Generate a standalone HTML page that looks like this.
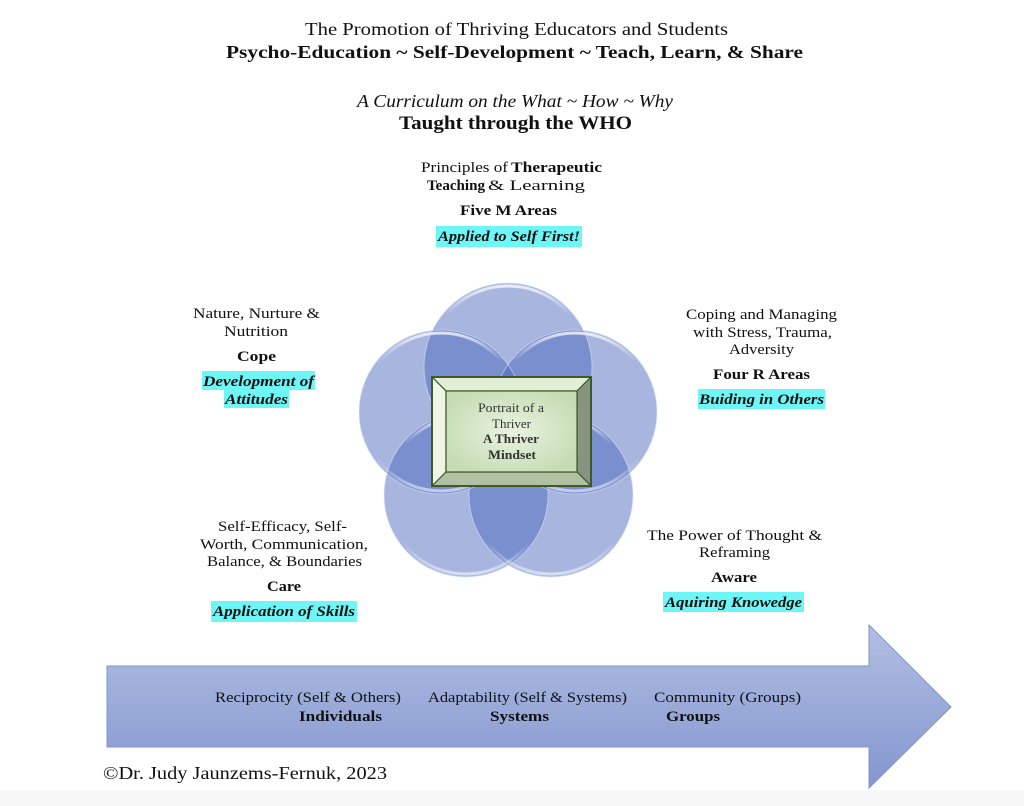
<!DOCTYPE html>
<html>
<head>
<meta charset="utf-8">
<style>
  html,body{margin:0;padding:0;background:#fff;}
  svg{display:block;}
  text{font-family:"Liberation Serif",serif;fill:#111;}
  .b{font-weight:bold;}
  .i{font-style:italic;}
</style>
</head>
<body>
<svg width="1024" height="806" viewBox="0 0 1024 806" xmlns="http://www.w3.org/2000/svg">
  <defs>
    <linearGradient id="rim" x1="0" y1="0" x2="0" y2="1">
      <stop offset="0" stop-color="#fff" stop-opacity="0.75"/>
      <stop offset="0.18" stop-color="#fff" stop-opacity="0"/>
      <stop offset="0.8" stop-color="#fff" stop-opacity="0"/>
      <stop offset="1" stop-color="#fff" stop-opacity="0.55"/>
    </linearGradient>
    <linearGradient id="arrowg" x1="0" y1="0" x2="0" y2="1">
      <stop offset="0" stop-color="#b2bee2"/>
      <stop offset="1" stop-color="#8396cf"/>
    </linearGradient>
    <radialGradient id="face" cx="0.5" cy="0.5" r="0.6">
      <stop offset="0" stop-color="#e9f3e0"/>
      <stop offset="1" stop-color="#c5dbb2"/>
    </radialGradient>
  </defs>

  <rect x="0" y="790" width="1024" height="16" fill="#f7f7f7"/>

  <!-- Title -->
  <text x="305" y="35" font-size="18" textLength="423" lengthAdjust="spacingAndGlyphs">The Promotion of Thriving Educators and Students</text>
  <text class="b" x="226" y="58" font-size="18" textLength="577" lengthAdjust="spacingAndGlyphs">Psycho-Education ~ Self-Development ~ Teach, Learn, &amp; Share</text>
  <text class="i" x="357" y="107" font-size="18" textLength="316" lengthAdjust="spacingAndGlyphs">A Curriculum on the What ~ How ~ Why</text>
  <text class="b" x="399" y="129" font-size="19" textLength="233" lengthAdjust="spacingAndGlyphs">Taught through the WHO</text>

  <!-- Top label -->
  <text x="421" y="172" font-size="15" textLength="87" lengthAdjust="spacingAndGlyphs">Principles of</text>
  <text class="b" x="511" y="172" font-size="15" textLength="91" lengthAdjust="spacingAndGlyphs">Therapeutic</text>
  <text class="b" x="427" y="190" font-size="15" textLength="58" lengthAdjust="spacingAndGlyphs">Teaching</text>
  <text x="488" y="190" font-size="15" textLength="97" lengthAdjust="spacingAndGlyphs">&amp; Learning</text>
  <text class="b" x="460" y="215" font-size="15" textLength="97" lengthAdjust="spacingAndGlyphs">Five M Areas</text>
  <rect x="436" y="226" width="146" height="21" fill="#6ef6f6"/>
  <text class="b i" x="438" y="241" font-size="15" textLength="142" lengthAdjust="spacingAndGlyphs">Applied to Self First!</text>

  <!-- Left upper label -->
  <text x="193" y="318" font-size="15" textLength="127" lengthAdjust="spacingAndGlyphs">Nature, Nurture &amp;</text>
  <text x="224" y="336" font-size="15" textLength="64" lengthAdjust="spacingAndGlyphs">Nutrition</text>
  <text class="b" x="237" y="361" font-size="15" textLength="39" lengthAdjust="spacingAndGlyphs">Cope</text>
  <rect x="202" y="371" width="113" height="19" fill="#6ef6f6"/>
  <rect x="224" y="390" width="65" height="18" fill="#6ef6f6"/>
  <text class="b i" x="203" y="386" font-size="15" textLength="111" lengthAdjust="spacingAndGlyphs">Development of</text>
  <text class="b i" x="225" y="404" font-size="15" textLength="63" lengthAdjust="spacingAndGlyphs">Attitudes</text>

  <!-- Right upper label -->
  <text x="686" y="319" font-size="15" textLength="151" lengthAdjust="spacingAndGlyphs">Coping and Managing</text>
  <text x="693" y="337" font-size="15" textLength="139" lengthAdjust="spacingAndGlyphs">with Stress, Trauma,</text>
  <text x="729" y="354" font-size="15" textLength="65" lengthAdjust="spacingAndGlyphs">Adversity</text>
  <text class="b" x="713" y="379" font-size="15" textLength="97" lengthAdjust="spacingAndGlyphs">Four R Areas</text>
  <rect x="698" y="389" width="127" height="20" fill="#6ef6f6"/>
  <text class="b i" x="699" y="404" font-size="15" textLength="125" lengthAdjust="spacingAndGlyphs">Buiding in Others</text>

  <!-- Left lower label -->
  <text x="218" y="531" font-size="15" textLength="129" lengthAdjust="spacingAndGlyphs">Self-Efficacy,  Self-</text>
  <text x="200" y="549" font-size="15" textLength="168" lengthAdjust="spacingAndGlyphs">Worth, Communication,</text>
  <text x="207" y="566" font-size="15" textLength="155" lengthAdjust="spacingAndGlyphs">Balance, &amp; Boundaries</text>
  <text class="b" x="267" y="591" font-size="15" textLength="34" lengthAdjust="spacingAndGlyphs">Care</text>
  <rect x="211" y="601" width="146" height="21" fill="#6ef6f6"/>
  <text class="b i" x="213" y="616" font-size="15" textLength="142" lengthAdjust="spacingAndGlyphs">Application of Skills</text>

  <!-- Right lower label -->
  <text x="647" y="540" font-size="15" textLength="175" lengthAdjust="spacingAndGlyphs">The Power of Thought &amp;</text>
  <text x="699" y="557" font-size="15" textLength="71" lengthAdjust="spacingAndGlyphs">Reframing</text>
  <text class="b" x="711" y="582" font-size="15" textLength="46" lengthAdjust="spacingAndGlyphs">Aware</text>
  <rect x="663" y="592" width="141" height="20" fill="#6ef6f6"/>
  <text class="b i" x="665" y="607" font-size="15" textLength="137" lengthAdjust="spacingAndGlyphs">Aquiring Knowedge</text>

  <!-- Circles -->
  <g fill="rgba(70,99,186,0.47)">
    <circle cx="508" cy="367" r="84"/>
    <circle cx="441" cy="412" r="82"/>
    <circle cx="575" cy="412" r="82"/>
    <circle cx="466" cy="495" r="82"/>
    <circle cx="551" cy="495" r="82"/>
  </g>
  <g fill="none" stroke="url(#rim)" stroke-width="3">
    <circle cx="508" cy="367" r="81"/>
    <circle cx="441" cy="412" r="79"/>
    <circle cx="575" cy="412" r="79"/>
    <circle cx="466" cy="495" r="79"/>
    <circle cx="551" cy="495" r="79"/>
  </g>
  <g fill="none" stroke="rgba(220,228,248,0.55)" stroke-width="1">
    <circle cx="508" cy="367" r="84"/>
    <circle cx="441" cy="412" r="82"/>
    <circle cx="575" cy="412" r="82"/>
    <circle cx="466" cy="495" r="82"/>
    <circle cx="551" cy="495" r="82"/>
  </g>

  <!-- Center bevel box -->
  <g stroke="#3d5a27" stroke-width="1.2" stroke-linejoin="miter">
    <polygon points="432,377 591,377 577,391 446,391" fill="#e3eed6"/>
    <polygon points="432,377 446,391 446,472 432,486" fill="#eef5e7"/>
    <polygon points="591,377 591,486 577,472 577,391" fill="#879580"/>
    <polygon points="432,486 446,472 577,472 591,486" fill="#b2c1a3"/>
    <rect x="446" y="391" width="131" height="81" fill="url(#face)"/>
  </g>
  <rect x="432" y="377" width="159" height="109" fill="none" stroke="#3d5a27" stroke-width="2"/>
  <text x="478" y="412" font-size="13" textLength="66" lengthAdjust="spacingAndGlyphs" style="fill:#333">Portrait of a</text>
  <text x="492" y="428" font-size="13" textLength="39" lengthAdjust="spacingAndGlyphs" style="fill:#333">Thriver</text>
  <text class="b" x="483" y="443" font-size="13" textLength="56" lengthAdjust="spacingAndGlyphs" style="fill:#333">A Thriver</text>
  <text class="b" x="488" y="459" font-size="13" textLength="48" lengthAdjust="spacingAndGlyphs" style="fill:#333">Mindset</text>

  <!-- Arrow -->
  <polygon points="107,666 869,666 869,625 951,707 869,788 869,747 107,747" fill="url(#arrowg)" stroke="#8095cf" stroke-width="1"/>
  <text x="215" y="702" font-size="15" textLength="186" lengthAdjust="spacingAndGlyphs">Reciprocity (Self &amp; Others)</text>
  <text class="b" x="299" y="721" font-size="15" textLength="83" lengthAdjust="spacingAndGlyphs">Individuals</text>
  <text x="428" y="702" font-size="15" textLength="199" lengthAdjust="spacingAndGlyphs">Adaptability (Self &amp; Systems)</text>
  <text class="b" x="490" y="721" font-size="15" textLength="59" lengthAdjust="spacingAndGlyphs">Systems</text>
  <text x="654" y="702" font-size="15" textLength="147" lengthAdjust="spacingAndGlyphs">Community (Groups)</text>
  <text class="b" x="666" y="721" font-size="15" textLength="54" lengthAdjust="spacingAndGlyphs">Groups</text>

  <!-- Copyright -->
  <text x="103" y="779" font-size="18" textLength="284" lengthAdjust="spacingAndGlyphs">©Dr. Judy Jaunzems-Fernuk, 2023</text>
</svg>
</body>
</html>
